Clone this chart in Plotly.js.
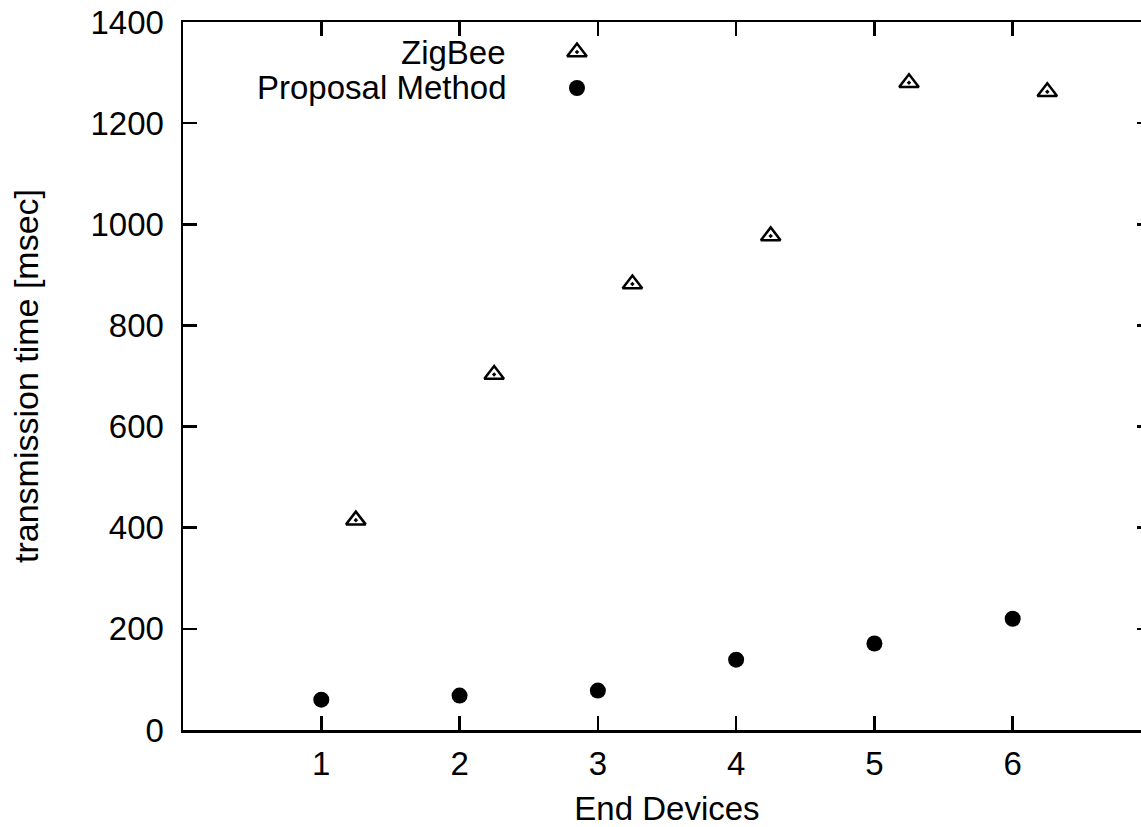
<!DOCTYPE html>
<html>
<head>
<meta charset="utf-8">
<script src="https://cdn.plot.ly/plotly-3.0.1.min.js"></script>
<style>
html,body{margin:0;padding:0;overflow:hidden;background:#fff;}
#chart{width:1155px;height:840px;}
</style>
</head>
<body>
<div id="chart"></div>
<script>
// Data
const zigbeeX = [1.25, 2.25, 3.25, 4.25, 5.25, 6.25];
const zigbeeY = [415, 703, 882, 977, 1280, 1262];
const proposalX = [1, 2, 3, 4, 5, 6];
const proposalY = [60, 68, 78, 139, 171, 220];
const seriesNames = ['ZigBee', 'Proposal Method'];
const xTicks = [1, 2, 3, 4, 5, 6];
const yTicks = [0, 200, 400, 600, 800, 1000, 1200, 1400];

// legend layout (paper-fraction positions of the custom key)
const keyLayout = {textX: 0.3357, symX: 0.407, rowY: [0.9576, 0.9068]};

const FONT = 'Liberation Sans, Arial, Helvetica, sans-serif';
const FS = 33;
const symbols = ['triangle-up-open-dot', 'circle'];
const sizes = [17, 16];

const traces = [
  {x: zigbeeX, y: zigbeeY, type: 'scatter', mode: 'markers', name: seriesNames[0],
   marker: {symbol: symbols[0], size: sizes[0], color: '#000', line: {width: 2.5, color: '#000'}}},
  {x: proposalX, y: proposalY, type: 'scatter', mode: 'markers', name: seriesNames[1],
   marker: {symbol: symbols[1], size: sizes[1], color: '#000'}},
  // key symbols on an overlay paper-like axis
  {x: [keyLayout.symX], y: [keyLayout.rowY[0]], xaxis: 'x2', yaxis: 'y2', type: 'scatter', mode: 'markers',
   hoverinfo: 'skip', marker: {symbol: symbols[0], size: sizes[0], color: '#000', line: {width: 2.5, color: '#000'}}},
  {x: [keyLayout.symX], y: [keyLayout.rowY[1]], xaxis: 'x2', yaxis: 'y2', type: 'scatter', mode: 'markers',
   hoverinfo: 'skip', marker: {symbol: symbols[1], size: sizes[1], color: '#000'}}
];

const layout = {
  width: 1155, height: 840,
  margin: {l: 183, r: 4, t: 22, b: 110},
  paper_bgcolor: '#fff', plot_bgcolor: '#fff',
  showlegend: false,
  font: {family: FONT, size: FS, color: '#000'},
  xaxis: {
    range: [0, 7], tickvals: xTicks, ticktext: xTicks.map(String),
    ticks: 'inside', ticklen: 14, tickwidth: 2.5, tickcolor: '#000',
    showline: true, linewidth: 2.5, linecolor: '#000', mirror: 'ticks',
    showgrid: false, zeroline: false, ticklabelstandoff: 3,
    tickfont: {family: FONT, size: FS, color: '#000'},
    title: {text: 'End Devices', font: {family: FONT, size: FS, color: '#000'}, standoff: 16}
  },
  yaxis: {
    range: [0, 1400], tickvals: yTicks, ticktext: yTicks.map(String),
    ticks: 'inside', ticklen: 14, tickwidth: 2.5, tickcolor: '#000',
    showline: true, linewidth: 2.5, linecolor: '#000', mirror: 'ticks',
    showgrid: false, zeroline: false, ticklabelstandoff: 10,
    tickfont: {family: FONT, size: FS, color: '#000'},
    title: {text: 'transmission time [msec]', font: {family: FONT, size: 34, color: '#000'}, standoff: 42}
  },
  xaxis2: {overlaying: 'x', range: [0, 1], visible: false, fixedrange: true},
  yaxis2: {overlaying: 'y', range: [0, 1], visible: false, fixedrange: true},
  annotations: seriesNames.map((n, i) => ({
    text: n, xref: 'paper', yref: 'paper', x: keyLayout.textX, y: keyLayout.rowY[i],
    xanchor: 'right', yanchor: 'middle', showarrow: false,
    font: {family: FONT, size: FS, color: '#000'}
  }))
};

Plotly.newPlot('chart', traces, layout, {staticPlot: true, displayModeBar: false});
</script>
</body>
</html>
